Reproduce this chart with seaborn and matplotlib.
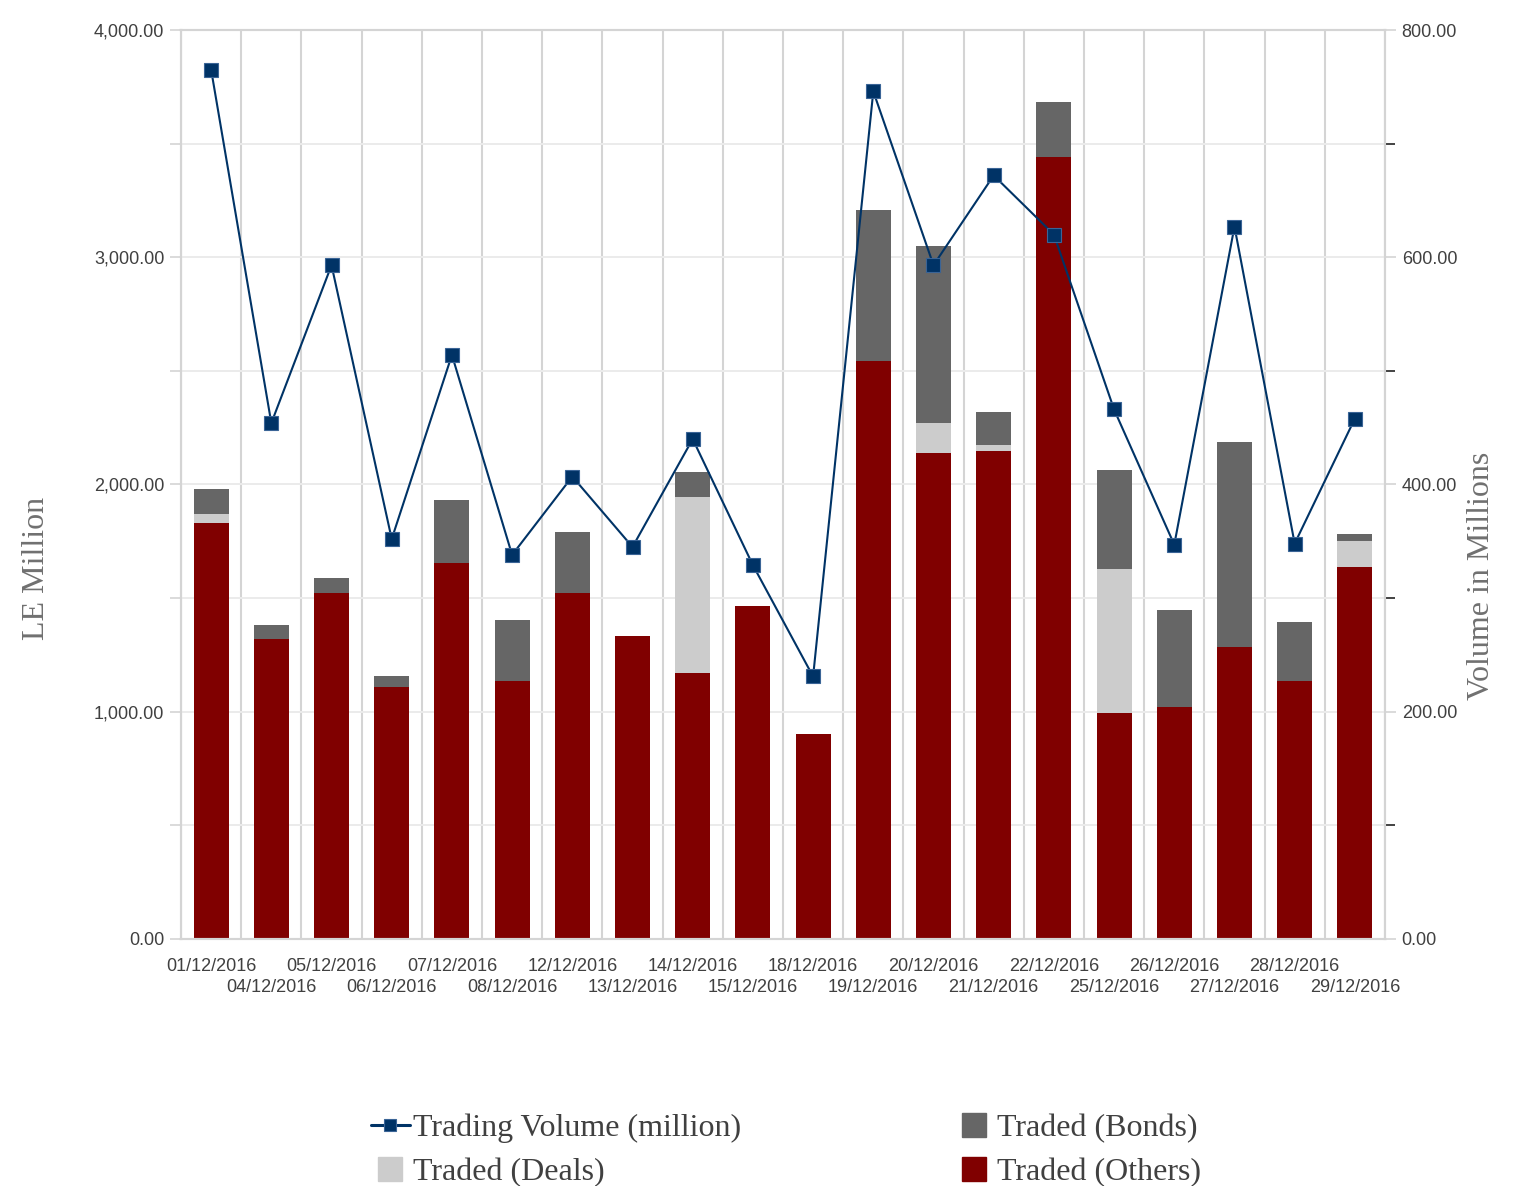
import numpy as np
import pandas as pd
import seaborn as sns
import matplotlib.pyplot as plt
from matplotlib.lines import Line2D
from matplotlib.ticker import FuncFormatter, MultipleLocator

dates = ['01/12/2016', '04/12/2016', '05/12/2016', '06/12/2016', '07/12/2016',
         '08/12/2016', '12/12/2016', '13/12/2016', '14/12/2016', '15/12/2016',
         '18/12/2016', '19/12/2016', '20/12/2016', '21/12/2016', '22/12/2016',
         '25/12/2016', '26/12/2016', '27/12/2016', '28/12/2016', '29/12/2016']
traded_others = [1830, 1320, 1522, 1109, 1655, 1135, 1522, 1333, 1170, 1465,
                 902, 2543, 2139, 2147, 3441, 994, 1021, 1285, 1135, 1637]
traded_deals = [40, 0, 0, 0, 0, 0, 0, 0, 775, 0,
                0, 0, 132, 27, 0, 634, 0, 0, 0, 114]
traded_bonds = [110, 62, 66, 48, 277, 269, 269, 0, 110, 0,
                0, 665, 778, 145, 242, 436, 427, 902, 260, 31]
volume = [765, 454, 593, 352, 514, 338, 407, 345, 440, 329,
          231, 746, 593, 672, 620, 466, 347, 627, 348, 458]

c_others = '#800000'
c_deals = '#cccccc'
c_bonds = '#666666'
c_line = '#003366'
grid_c = '#d4d4d4'

df = pd.DataFrame({'date': dates, 'others': traded_others,
                   'deals': traded_deals, 'bonds': traded_bonds})
df['od'] = df['others'] + df['deals']
df['total'] = df['od'] + df['bonds']

sns.set_style('white')
plt.rcParams['font.family'] = ['Liberation Sans', 'DejaVu Sans']

fig = plt.figure(figsize=(15.29, 11.86), dpi=100)
ax = fig.add_axes([0.1184, 0.2083, 0.7874, 0.7664])

# stacked look: draw totals first, then shorter stacks on top
bar_kw = dict(width=0.58, saturation=1, errorbar=None, linewidth=0, ax=ax)
sns.barplot(data=df, x='date', y='total', color=c_bonds, **bar_kw)
sns.barplot(data=df, x='date', y='od', color=c_deals, **bar_kw)
sns.barplot(data=df, x='date', y='others', color=c_others, **bar_kw)

n = len(dates)
ax.set_xlim(-0.5, n - 0.5)
ax.set_ylim(0, 4000)
ax.set_axisbelow(True)
ax.set_xlabel('')
ax.set_ylabel('LE Million', family=['Liberation Serif'], fontsize=23, color='#707070')
ax.yaxis.set_label_coords(-0.108, 0.408)

ax.set_yticks(np.arange(0, 4001, 1000))
ax.yaxis.set_minor_locator(MultipleLocator(500))
ax.yaxis.set_major_formatter(FuncFormatter(lambda v, p: f'{v:,.2f}'))
ax.grid(which='both', axis='y', color='#ebebeb', linewidth=1.4)
ax.set_xticks(np.arange(-0.5, n), minor=True)
ax.grid(which='minor', axis='x', color=grid_c, linewidth=1.5)
ax.tick_params(axis='y', which='both', length=8, width=1.2, color=grid_c,
               labelsize=13, labelcolor='#404040', pad=4)
ax.tick_params(axis='x', which='minor', length=0)

ax.set_xticks(np.arange(n))
ax.set_xticklabels(dates)
ax.tick_params(axis='x', which='major', length=9, width=1.5, color=grid_c,
               labelsize=13, labelcolor='#404040', pad=5)
# every second date goes on a lower row with a longer tick
for i, t in enumerate(ax.xaxis.get_major_ticks()):
    if i % 2 == 1:
        t.tick1line.set_markersize(26)
        t.set_pad(19.5)

for s in ax.spines.values():
    s.set_color(grid_c)
    s.set_linewidth(1.5)

ax2 = ax.twinx()
sns.lineplot(x=np.arange(n), y=volume, ax=ax2, color=c_line, linewidth=1.5,
             marker='s', markersize=10, markeredgecolor='#3a6496',
             markeredgewidth=0.8)
ax2.set_xlim(-0.5, n - 0.5)
ax2.set_ylim(0, 800)
ax2.set_yticks(np.arange(0, 801, 200))
ax2.yaxis.set_minor_locator(MultipleLocator(100))
ax2.yaxis.set_major_formatter(FuncFormatter(lambda v, p: f'{v:,.2f}'))
ax2.tick_params(axis='y', which='major', length=8, width=1.2, color=grid_c,
                labelsize=13, labelcolor='#404040', pad=4)
ax2.tick_params(axis='y', which='minor', length=7, width=1.2, color='#222222')
ax2.grid(False)
ax2.set_ylabel('Volume in Millions', family=['Liberation Serif'], fontsize=23,
               color='#707070', rotation=90)
ax2.yaxis.set_label_coords(1.068, 0.40)
for s in ax2.spines.values():
    s.set_color(grid_c)
    s.set_linewidth(1.5)

handles = [
    Line2D([], [], color=c_line, marker='s', markersize=9, linewidth=2.2,
           markeredgecolor='#3a6496', markeredgewidth=0.8),
    Line2D([], [], color=c_deals, marker='s', markersize=17, linestyle='none'),
    Line2D([], [], color=c_bonds, marker='s', markersize=17, linestyle='none'),
    Line2D([], [], color=c_others, marker='s', markersize=17, linestyle='none'),
]
labels = ['Trading Volume (million)', 'Traded (Deals)', 'Traded (Bonds)', 'Traded (Others)']
leg = fig.legend(handles, labels, ncol=2, loc='center', bbox_to_anchor=(0.514, 0.030),
                 frameon=False, prop={'family': 'Liberation Serif', 'size': 23},
                 handlelength=1.2, handletextpad=0.1, columnspacing=6.7,
                 labelspacing=0.45)
for t in leg.get_texts():
    t.set_color('#404040')

fig.savefig('out.png', dpi=100)
